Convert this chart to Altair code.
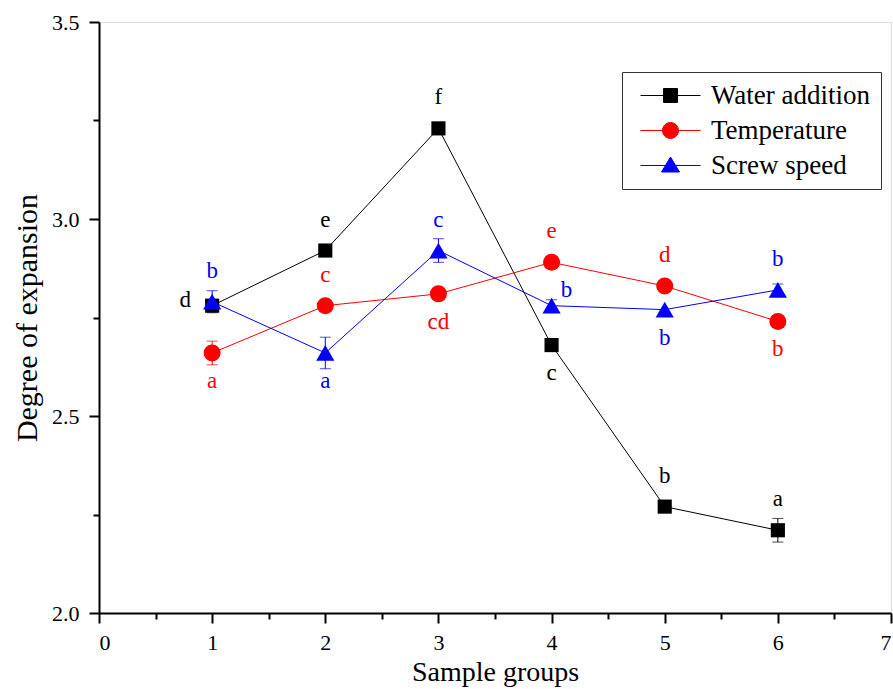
import altair as alt
import pandas as pd

groups = [1, 2, 3, 4, 5, 6]
series_names = ["Water addition", "Temperature", "Screw speed"]

water = [2.78, 2.92, 3.23, 2.68, 2.27, 2.21]
water_err = [0.01, 0.0, 0.0, 0.0, 0.012, 0.03]
water_letters = ["d", "e", "f", "c", "b", "a"]
water_pos = ["left", "above", "above", "below", "above", "above"]

temp = [2.66, 2.78, 2.81, 2.89, 2.83, 2.74]
temp_err = [0.03, 0.0, 0.0, 0.015, 0.0, 0.015]
temp_letters = ["a", "c", "cd", "e", "d", "b"]
temp_pos = ["below", "above", "below", "above", "above", "below"]

screw = [2.79, 2.66, 2.92, 2.78, 2.77, 2.82]
screw_err = [0.028, 0.04, 0.03, 0.015, 0.0, 0.015]
screw_letters = ["b", "a", "c", "b", "b", "b"]
screw_pos = ["above", "below", "above", "upright", "below", "above"]

colors = ["#000000", "#ff0000", "#0000ff"]
shapes = ["square", "circle", "triangle-up"]
sizes = [200, 290, 330]
legend_paths = [
    "M-6,0H6M-1.4,-1.4H1.4V1.4H-1.4Z",
    "M-6,0H6M1.6,0A1.6,1.6,0,1,1,-1.6,0A1.6,1.6,0,1,1,1.6,0Z",
    "M-6,0H6M0,-1.7L1.8,1.3H-1.8Z",
]

rows = []
for name, vals, errs, lets, poss in [
    (series_names[0], water, water_err, water_letters, water_pos),
    (series_names[1], temp, temp_err, temp_letters, temp_pos),
    (series_names[2], screw, screw_err, screw_letters, screw_pos),
]:
    for g, v, e, l, p in zip(groups, vals, errs, lets, poss):
        rows.append(dict(group=g, series=name, value=v, err=e, lo=v - e, hi=v + e,
                         letter=l, pos=p))
df = pd.DataFrame(rows)

FONT = "Liberation Serif"
color_scale = alt.Scale(domain=series_names, range=colors)

x_main = alt.X("group:Q", scale=alt.Scale(domain=[0, 7], nice=False),
               axis=alt.Axis(orient="bottom", values=list(range(0, 8)), format="d",
                             title="Sample groups", grid=False, tickSize=10, tickWidth=2,
                             domainWidth=2, domainColor="black", tickColor="black",
                             labelFontSize=22, titleFontSize=28, labelPadding=9,
                             titlePadding=5, labelColor="black", titleColor="black",
                             labelFont=FONT, titleFont=FONT, titleFontWeight="normal"))
y_main = alt.Y("value:Q", scale=alt.Scale(domain=[2.0, 3.5], nice=False, zero=False),
               axis=alt.Axis(orient="left", values=[2.0, 2.5, 3.0, 3.5], format=".1f",
                             title="Degree of expansion", grid=False, tickSize=10, tickWidth=2,
                             domainWidth=2, domainColor="black", tickColor="black",
                             labelFontSize=22, titleFontSize=30, labelPadding=10,
                             titlePadding=9, labelColor="black", titleColor="black",
                             labelFont=FONT, titleFont=FONT, titleFontWeight="normal"))

x_minor = alt.X("group:Q", axis=alt.Axis(orient="bottom", values=[0.5, 1.5, 2.5, 3.5, 4.5, 5.5, 6.5],
                                         labels=False, domain=False, grid=False, title=None,
                                         tickSize=6, tickWidth=2, tickColor="black"))
y_minor = alt.Y("value:Q", axis=alt.Axis(orient="left", values=[2.25, 2.75, 3.25],
                                         labels=False, domain=False, grid=False, title=None,
                                         tickSize=6, tickWidth=2, tickColor="black"))

x_none = alt.X("group:Q", axis=None)
y_none = alt.Y("value:Q", axis=None)

base = alt.Chart(df)
no_leg_color = alt.Color("series:N", scale=color_scale, legend=None)

lines = base.mark_line(strokeWidth=1).encode(
    x=x_main, y=y_main, color=no_leg_color, order="group:Q",
)

err_df = base.transform_filter("datum.err > 0")
err_rules = err_df.mark_rule(strokeWidth=1).encode(
    x=x_minor, y=y_minor, y2="hi:Q", color=no_leg_color,
).transform_calculate(value="datum.lo")
caps = err_df.transform_fold(["lo", "hi"], as_=["cap", "capv"]).mark_tick(
    orient="horizontal", size=11, thickness=1
).encode(
    x=x_none, y=alt.Y("capv:Q", axis=None), color=no_leg_color,
)

point_layers = []
for name, shp, sz in zip(series_names, shapes, sizes):
    point_layers.append(
        base.transform_filter(alt.datum.series == name).mark_point(
            filled=True, opacity=1, shape=shp, size=sz
        ).encode(x=x_none, y=y_none, color=no_leg_color)
    )

def label_layer(pos, dx, dy):
    return base.transform_filter(alt.datum.pos == pos).mark_text(
        font=FONT, fontSize=23, dx=dx, dy=dy, baseline="middle", align="center"
    ).encode(x=x_none, y=y_none, text="letter:N", color=no_leg_color)

labels = [
    label_layer("above", 0, -31),
    label_layer("below", 0, 28),
    label_layer("left", -27, -6),
    label_layer("upright", 15, -16),
]

def make_leg():
    return alt.Legend(
        title=None, orient="none", legendX=523, legendY=50,
        strokeColor="#333333", padding=10, labelFont=FONT, labelFontSize=27,
        labelColor="black", symbolOffset=25, labelOffset=27, rowPadding=7,
        symbolStrokeWidth=1, labelLimit=400,
    )

legend_layer = base.transform_filter("datum.group < 0").mark_point(
    filled=True, opacity=1, strokeWidth=1
).encode(
    x=x_none, y=y_none,
    fill=alt.Fill("series:N", scale=color_scale, legend=make_leg()),
    stroke=alt.Stroke("series:N", scale=color_scale, legend=make_leg()),
    shape=alt.Shape("series:N", scale=alt.Scale(domain=series_names, range=legend_paths),
                    legend=make_leg()),
)

chart = alt.layer(
    lines, err_rules, caps, *point_layers, *labels, legend_layer
).resolve_scale(
    shape="independent", fill="independent", stroke="independent"
).resolve_axis(
    x="independent", y="independent"
).properties(
    width=792, height=591,
    autosize=alt.AutoSizeParams(type="none"),
    padding={"left": 99, "top": 22, "right": 2, "bottom": 76},
).configure_view(
    stroke=None
).configure(
    font=FONT, background="white"
)

chart.save("out.html", embed_options={"renderer": "svg", "actions": False})
